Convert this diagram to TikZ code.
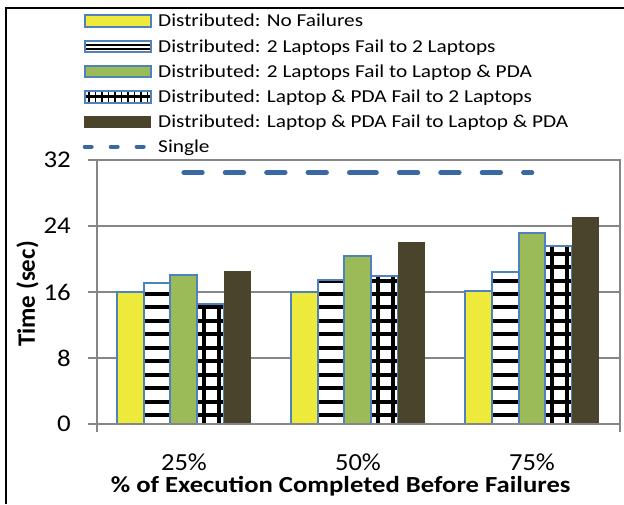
\documentclass[tikz,border=0pt]{standalone}
\usepackage{fontspec}
\setmainfont{Carlito}
\definecolor{ybar}{RGB}{238,234,60}
\definecolor{gbar}{RGB}{155,187,89}
\definecolor{dbar}{RGB}{74,68,44}
\definecolor{bborder}{RGB}{79,129,189}
\definecolor{dashc}{RGB}{57,104,163}
\definecolor{axisgray}{RGB}{134,134,134}
\begin{document}
\begin{tikzpicture}[x=1pt,y=-1pt,
  legtxt/.style={inner sep=0pt, anchor=base west, xscale=1.17, font=\fontsize{18.2}{20}\selectfont},
  ticktxt/.style={inner sep=0pt, anchor=east, xscale=1.12, font=\fontsize{24}{26}\selectfont},
  cattxt/.style={inner sep=0pt, anchor=base, xscale=1.08, font=\fontsize{24.5}{26}\selectfont},
  titletxt/.style={inner sep=0pt, anchor=base, xscale=1.16, font=\bfseries\fontsize{23}{25}\selectfont},
  ylabtxt/.style={inner sep=0pt, anchor=center, rotate=90, font=\bfseries\fontsize{25}{27}\selectfont},
  grid line/.style={draw=axisgray, line width=1.5pt},
  axis line/.style={draw=axisgray, line width=2pt},
  bar border/.style={draw=bborder, line width=2pt},
  stripe/.style={draw=black, line width=4pt},
  single line/.style={draw=dashc, line width=4.7pt, line cap=round, dash pattern=on 18.6pt off 22.8pt},
]
\useasboundingbox (0,0) rectangle (624,504);
\fill[white] (0,0) rectangle (624,504);

% gridlines
\foreach \v in {8,16,24,32} {
  \draw[grid line] (96.7,{424-8.25*\v}) -- (620,{424-8.25*\v});
}
% ticks
\foreach \v in {0,8,16,24,32} {
  \draw[axis line] (88.3,{424-8.25*\v}) -- (96.7,{424-8.25*\v});
}
% tick labels
\node[ticktxt] (t0) at (71,424) {0};
\node[ticktxt] (t8) at (71,358) {8};
\node[ticktxt] (t16) at (71,292) {16};
\node[ticktxt] (t24) at (71,226) {24};
\node[ticktxt] (t32) at (71,160) {32};

% bars
\foreach \g/\a/\b/\c/\d/\e in {0/16/17.05/18.1/14.5/18.5, 1/16/17.45/20.4/18.0/22.06, 2/16.1/18.4/23.1/21.6/25.1} {
  \pgfmathsetmacro{\L}{116.75+174.1*\g}
  \pgfmathsetmacro{\Lb}{\L+26.8}
  \pgfmathsetmacro{\Lc}{\L+53.6}
  \pgfmathsetmacro{\Ld}{\L+80.4}
  \pgfmathsetmacro{\Le}{\L+107.2}
  \pgfmathsetmacro{\Lf}{\L+134}
  % yellow
  \filldraw[fill=ybar, bar border] (\L,424) rectangle (\Lb,{424-8.25*\a});
  % striped
  \fill[white] (\Lb,424) rectangle (\Lc,{424-8.25*\b});
  \begin{scope}
    \clip (\Lb,424) rectangle (\Lc,{424-8.25*\b});
    \foreach \k in {0,...,12} {
      \draw[stripe] (\Lb,{415.3-13.48*\k}) -- (\Lc,{415.3-13.48*\k});
    }
  \end{scope}
  \draw[bar border] (\Lb,424) rectangle (\Lc,{424-8.25*\b});
  % green
  \filldraw[fill=gbar, bar border] (\Lc,424) rectangle (\Ld,{424-8.25*\c});
  % grid
  \fill[white] (\Ld,424) rectangle (\Le,{424-8.25*\d});
  \begin{scope}
    \clip (\Ld,424) rectangle (\Le,{424-8.25*\d});
    \foreach \k in {0,...,12} {
      \draw[stripe] (\Ld,{415.3-13.48*\k}) -- (\Le,{415.3-13.48*\k});
    }
    \draw[stripe] ({\Ld+6.6},424) -- ({\Ld+6.6},150);
    \draw[stripe] ({\Ld+21.6},424) -- ({\Ld+21.6},150);
  \end{scope}
  \draw[bar border] (\Ld,424) rectangle (\Le,{424-8.25*\d});
  % dark
  \fill[dbar] (\Le,424) rectangle (\Lf,{424-8.25*\e});
}

% single line
\coordinate (s1) at (183.75,172.7);
\coordinate (s2) at (357.85,172.7);
\coordinate (s3) at (531.95,172.7);
\draw[single line] (s1) -- (s2);
\draw[single line] (s2) -- (s3);

% axes
\draw[axis line] (96.7,160) -- (96.7,432);
\draw[axis line] (88.3,424) -- (620,424);
\draw[draw=axisgray, line width=2.5pt] (620,159) -- (620,432);

% category labels
\node[cattxt] (c25) at (184,470) {25\%};
\node[cattxt] (c50) at (358,470) {50\%};
\node[cattxt] (c75) at (532,470) {75\%};
\node[titletxt] (xtitle) at (340.7,492.5) {\% of Execution Completed Before Failures};
\node[ylabtxt] (ytitle) at (27.5,294) {Time (sec)};

% outer frame
\draw[line width=2pt] (6.3,504) -- (6.3,8.3) -- (624,8.3);

% legend
\filldraw[fill=ybar, bar border] (84.5,15) rectangle (150.5,26.5);
\node[legtxt] (l1) at (158,26.6) {Distributed: No Failures};

\filldraw[fill=white, bar border] (84.5,40.8) rectangle (150.5,52.3);
\draw[black, line width=2pt] (85.5,44.5) -- (149.5,44.5);
\draw[black, line width=2pt] (85.5,49) -- (149.5,49);
\node[legtxt] (l2) at (158,52.6) {Distributed: 2 Laptops Fail to 2 Laptops};

\filldraw[fill=gbar, bar border] (84.5,65.9) rectangle (150.5,77.4);
\node[legtxt] (l3) at (158,77.6) {Distributed: 2 Laptops Fail to Laptop \& PDA};

\filldraw[fill=white, bar border] (84.5,91) rectangle (150.5,102.5);
\draw[black, line width=2.5pt] (85.5,96.5) -- (149.5,96.5);
\foreach \xx in {89,95.5,102,108.5,115,121.5,128,134.5,141,147.5} {
  \draw[black, line width=1.8pt] (\xx,92) -- (\xx,101.5);
}
\node[legtxt] (l4) at (158,102.6) {Distributed: Laptop \& PDA Fail to 2 Laptops};

\fill[dbar] (84,116.3) rectangle (151,127.8);
\node[legtxt] (l5) at (158,127.6) {Distributed: Laptop \& PDA Fail to Laptop \& PDA};

\coordinate (sg1) at (84.7,146.7);
\coordinate (sg2) at (149,146.7);
\draw[draw=dashc, line width=4pt, line cap=round, dash pattern=on 7pt off 19pt] (sg1) -- (sg2);
\node[legtxt] (l6) at (158,152.6) {Single};
\end{tikzpicture}
\end{document}
